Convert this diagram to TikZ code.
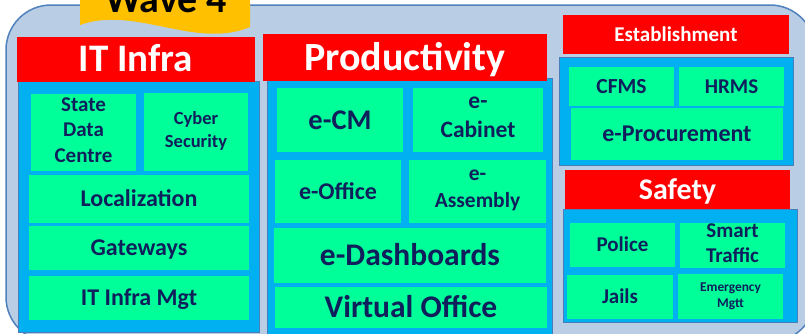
\documentclass[tikz,border=0pt]{standalone}
\usepackage{fontspec}
\setmainfont{Carlito}
\definecolor{outerfill}{HTML}{B9CDE5}
\definecolor{outeredge}{HTML}{4F81BD}
\definecolor{wavegold}{HTML}{FFC000}
\definecolor{hdrred}{HTML}{FF0000}
\definecolor{contblue}{HTML}{00B0F0}
\definecolor{contedge}{HTML}{4A7EBB}
\definecolor{boxgreen}{HTML}{00FF99}
\definecolor{navy}{HTML}{0F1F5C}
\newcommand\ps{\rule[-0.26em]{0pt}{1.16em}}
\newcommand\fs[2]{\fontsize{#1}{#2}\selectfont\bfseries}
\newcommand\bx[7]{\node[#1, minimum width={(#5)-(#3)}, minimum height={(#6)-(#4)}] (#2) at ({((#3)+(#5))/2},{((#4)+(#6))/2}) {#7};}
\tikzset{
  outer/.style={fill=outerfill, draw=outeredge, line width=1.5pt, rounded corners=45pt},
  wavebox/.style={fill=wavegold},
  hdr/.style={fill=hdrred, text=white, inner sep=0pt, outer sep=0pt, align=center,
    execute at begin node=\ps, execute at end node=\ps},
  cont/.style={fill=contblue, draw=contedge, line width=1pt, inner sep=0pt, outer sep=0pt},
  gbox/.style={fill=boxgreen, text=navy, inner sep=0pt, outer sep=0pt, align=center,
    execute at begin node=\ps, execute at end node=\ps}
}
\begin{document}
\begin{tikzpicture}[x=1pt,y=-1pt]
\useasboundingbox (0,0) rectangle (805,333);
\begin{scope}
\clip (0,0) rectangle (805,333);
\draw[outer] (6,5) rectangle (815,342);
\fill[wavebox] (80,-5) -- (250,-5) -- (250,27) .. controls (195,50) and (135,5) .. (80,25) -- cycle;
\node[font=\fs{40}{48}, text=black, anchor=base, inner sep=0pt] (wave) at (166,12) {Wave 4};

% IT Infra
\bx{cont}{itc}{18}{81}{259}{332}{}
\bx{hdr,font=\fs{39}{47}}{itinfra}{17}{40}{255}{79}{IT Infra}
\bx{gbox,font=\fs{21}{25.6}}{sdc}{31}{94}{136}{171}{State\\Data\\Centre}
\bx{gbox,font=\fs{18.5}{22.5}}{cyber}{144}{93}{248}{171}{Cyber\\Security}
\bx{gbox,font=\fs{24}{29}}{loc}{29}{175}{249}{223}{Localization}
\bx{gbox,font=\fs{24}{29}}{gw}{29}{226}{249}{270}{Gateways}
\bx{gbox,font=\fs{24}{29}}{itm}{29}{276}{249}{320}{IT Infra Mgt}

% Productivity
\bx{cont}{prc}{267}{78}{552}{334}{}
\bx{hdr,font=\fs{40}{48}}{prod}{263}{40}{547}{75}{Productivity}
\bx{gbox,font=\fs{28.5}{35}}{ecm}{277}{88}{403}{152}{e-CM}
\bx{gbox,font=\fs{23.5}{28.7}}{ecab}{413}{88}{543}{152}{e-\\Cabinet}
\bx{gbox,font=\fs{24}{29}}{eoff}{275}{160}{401}{223}{e-Office}
\bx{gbox,font=\fs{21.5}{26.5}}{easm}{409}{160}{546}{223}{e-\\Assembly}
\bx{gbox,font=\fs{31.5}{38}}{edash}{274}{228}{546}{283}{e-Dashboards}
\bx{gbox,font=\fs{31.5}{38}}{voff}{275}{287}{547}{328}{Virtual Office}

% Establishment
\bx{cont}{estc}{559}{57}{793}{165}{}
\bx{hdr,font=\fs{21}{25.6}}{est}{563}{15}{789}{54}{Establishment}
\bx{gbox,font=\fs{21.5}{26}}{cfms}{569}{67}{674}{106}{CFMS}
\bx{gbox,font=\fs{21}{25.6}}{hrms}{679}{67}{784}{106}{HRMS}
\bx{gbox,font=\fs{24}{29}}{eproc}{571}{108}{783}{160}{e-Procurement}

% Safety
\bx{cont}{safc}{563}{209}{797}{322}{}
\bx{hdr,font=\fs{30}{36.5}}{saf}{565}{170}{790}{209}{Safety}
\bx{gbox,font=\fs{21}{25.6}}{police}{570}{223}{675}{267}{Police}
\bx{gbox,font=\fs{21}{25}}{smart}{680}{223}{785}{268}{Smart\\Traffic}
\bx{gbox,font=\fs{21}{25.6}}{jails}{567}{275}{673}{319}{Jails}
\bx{gbox,font=\fs{13.4}{16}}{emerg}{678}{274}{783}{319}{Emergency\\Mgtt}
\end{scope}
\end{tikzpicture}
\end{document}
